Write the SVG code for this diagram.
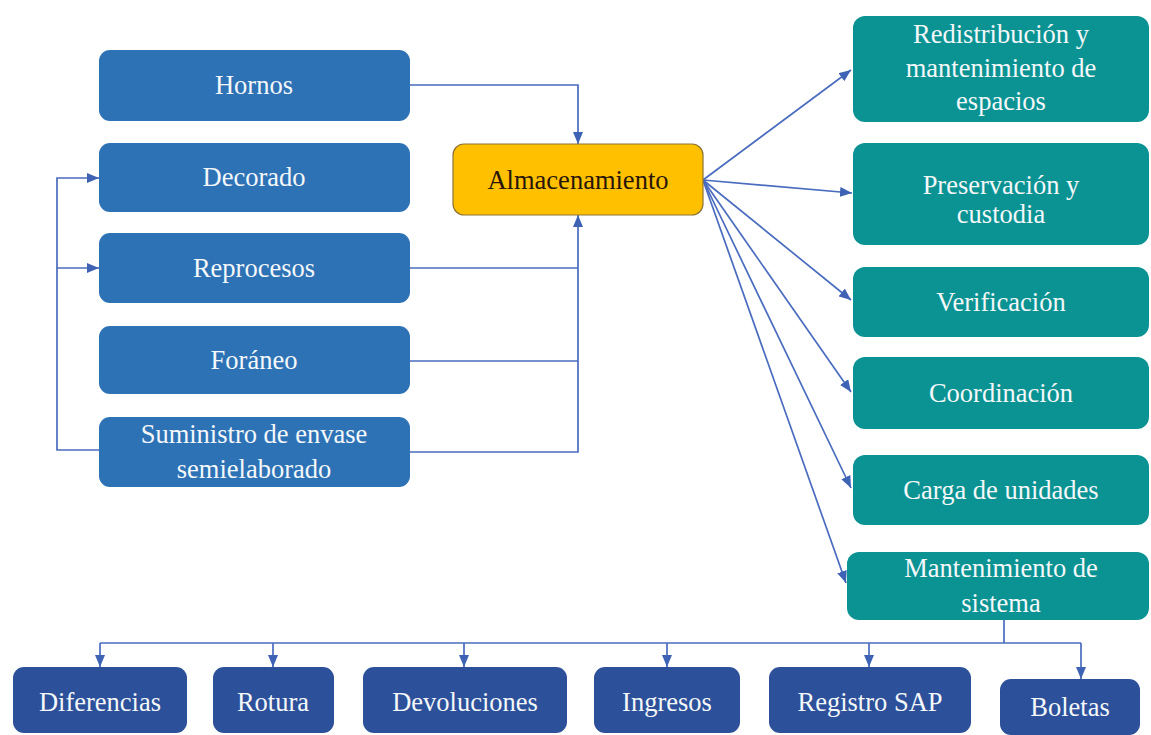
<svg xmlns="http://www.w3.org/2000/svg" width="1151" height="735" viewBox="0 0 1151 735">
  <defs>
    <marker id="arr" viewBox="0 0 12 10" refX="12" refY="5" markerWidth="12" markerHeight="10" markerUnits="userSpaceOnUse" orient="auto">
      <path d="M0,0 L12,5 L0,10 Z" fill="#3F63B4"/>
    </marker>
    <style>
      .src { fill: #2E72B6; }
      .act { fill: #0B9393; }
      .sub { fill: #2C5099; }
      .hub { fill: #FFC000; stroke: #8C7434; stroke-width: 1.2; }
      .lbl { font-family: "Liberation Serif", "Times New Roman", serif; font-size: 26.5px; fill: #F4F8FA; text-anchor: middle; }
      .dark { fill: #2A1608; }
      .wire { fill: none; stroke: #4A6CBE; stroke-width: 1.7; }
      .tip { marker-end: url(#arr); }
    </style>
  </defs>
  <rect width="1151" height="735" fill="#FFFFFF"/>

  <!-- connectors -->
  <g id="connectors">
    <!-- sources into storage -->
    <polyline class="wire tip" points="410,85 578,85 578,144"/>
    <polyline class="wire" points="410,268 578,268"/>
    <polyline class="wire" points="410,361 578,361"/>
    <polyline class="wire tip" points="410,452 578,452 578,215"/>
    <!-- return loop -->
    <polyline class="wire tip" points="99,450 57,450 57,178 99,178"/>
    <polyline class="wire tip" points="57,268 99,268"/>
    <!-- storage to activities -->
    <line class="wire tip" x1="703" y1="180" x2="851" y2="70"/>
    <line class="wire tip" x1="703" y1="180" x2="852" y2="193"/>
    <line class="wire tip" x1="703" y1="180" x2="851" y2="300"/>
    <line class="wire tip" x1="703" y1="180" x2="851" y2="392"/>
    <line class="wire tip" x1="703" y1="180" x2="851" y2="488"/>
    <line class="wire tip" x1="703" y1="180" x2="846" y2="583"/>
    <!-- system maintenance to records -->
    <polyline class="wire" points="1004,620 1004,643"/>
    <polyline class="wire" points="100,643 1081,643"/>
    <line class="wire tip" x1="100" y1="643" x2="100" y2="667"/>
    <line class="wire tip" x1="273" y1="643" x2="273" y2="667"/>
    <line class="wire tip" x1="464" y1="643" x2="464" y2="667"/>
    <line class="wire tip" x1="667" y1="643" x2="667" y2="667"/>
    <line class="wire tip" x1="869" y1="643" x2="869" y2="667"/>
    <line class="wire tip" x1="1081" y1="643" x2="1081" y2="679"/>
  </g>

  <!-- source areas -->
  <g id="hornos">
    <rect class="src" x="99" y="50" width="311" height="71" rx="11"/>
    <text class="lbl" x="254" y="94">Hornos</text>
  </g>
  <g id="decorado">
    <rect class="src" x="99" y="143" width="311" height="69" rx="11"/>
    <text class="lbl" x="254" y="186">Decorado</text>
  </g>
  <g id="reprocesos">
    <rect class="src" x="99" y="233" width="311" height="70" rx="11"/>
    <text class="lbl" x="254" y="277">Reprocesos</text>
  </g>
  <g id="foraneo">
    <rect class="src" x="99" y="326" width="311" height="68" rx="11"/>
    <text class="lbl" x="254" y="369">Foráneo</text>
  </g>
  <g id="suministro">
    <rect class="src" x="99" y="417" width="311" height="70" rx="11"/>
    <text class="lbl" x="254" y="443">Suministro de envase</text>
    <text class="lbl" x="254" y="478">semielaborado</text>
  </g>

  <!-- storage hub -->
  <g id="almacenamiento">
    <rect class="hub" x="453" y="144" width="250" height="71" rx="11"/>
    <text class="lbl dark" x="578" y="189">Almacenamiento</text>
  </g>

  <!-- storage activities -->
  <g id="redistribucion">
    <rect class="act" x="853" y="16" width="296" height="106" rx="12"/>
    <text class="lbl" x="1001" y="43">Redistribución y</text>
    <text class="lbl" x="1001" y="77">mantenimiento de</text>
    <text class="lbl" x="1001" y="110">espacios</text>
  </g>
  <g id="preservacion">
    <rect class="act" x="853" y="143" width="296" height="102" rx="12"/>
    <text class="lbl" x="1001" y="194">Preservación y</text>
    <text class="lbl" x="1001" y="223">custodia</text>
  </g>
  <g id="verificacion">
    <rect class="act" x="853" y="267" width="296" height="70" rx="12"/>
    <text class="lbl" x="1001" y="311">Verificación</text>
  </g>
  <g id="coordinacion">
    <rect class="act" x="853" y="357" width="296" height="72" rx="12"/>
    <text class="lbl" x="1001" y="402">Coordinación</text>
  </g>
  <g id="carga">
    <rect class="act" x="853" y="455" width="296" height="70" rx="12"/>
    <text class="lbl" x="1001" y="499">Carga de unidades</text>
  </g>
  <g id="mantenimiento-sistema">
    <rect class="act" x="847" y="552" width="302" height="68" rx="12"/>
    <text class="lbl" x="1001" y="577">Mantenimiento de</text>
    <text class="lbl" x="1001" y="612">sistema</text>
  </g>

  <!-- system records -->
  <g id="diferencias">
    <rect class="sub" x="13" y="667" width="174" height="66" rx="11"/>
    <text class="lbl" x="100" y="711">Diferencias</text>
  </g>
  <g id="rotura">
    <rect class="sub" x="213" y="667" width="121" height="66" rx="11"/>
    <text class="lbl" x="273" y="711">Rotura</text>
  </g>
  <g id="devoluciones">
    <rect class="sub" x="363" y="667" width="204" height="66" rx="11"/>
    <text class="lbl" x="465" y="711">Devoluciones</text>
  </g>
  <g id="ingresos">
    <rect class="sub" x="594" y="667" width="146" height="66" rx="11"/>
    <text class="lbl" x="667" y="711">Ingresos</text>
  </g>
  <g id="registro-sap">
    <rect class="sub" x="769" y="667" width="202" height="66" rx="11"/>
    <text class="lbl" x="870" y="711">Registro SAP</text>
  </g>
  <g id="boletas">
    <rect class="sub" x="1000" y="679" width="140" height="56" rx="11"/>
    <text class="lbl" x="1070" y="716">Boletas</text>
  </g>
</svg>
